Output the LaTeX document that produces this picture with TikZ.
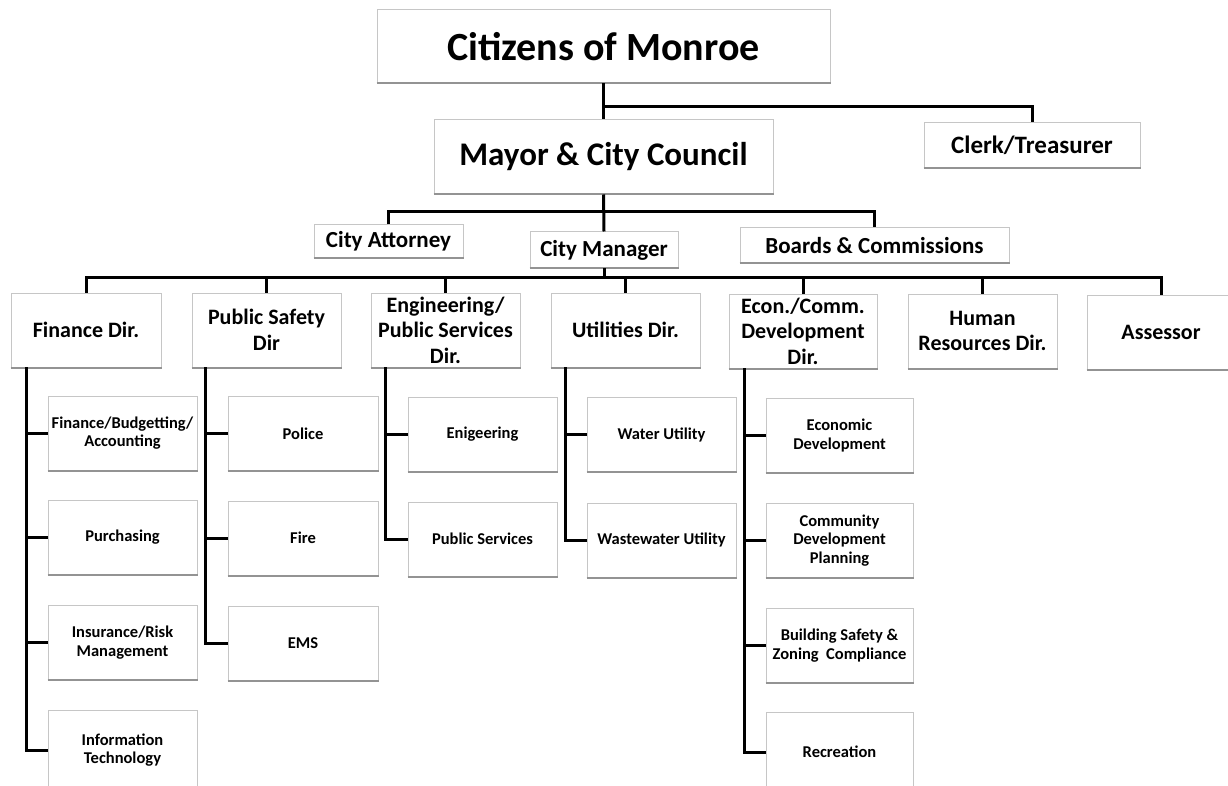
\documentclass[tikz,border=0pt]{standalone}
\usepackage{fontspec}
\setmainfont{Carlito}
\usetikzlibrary{calc}
\newcommand\fszA{\bfseries\fontsize{40}{48}\selectfont}
\newcommand\fszB{\bfseries\fontsize{33}{40}\selectfont}
\newcommand\fszC{\bfseries\fontsize{25}{30}\selectfont}
\newcommand\fszD{\bfseries\fontsize{23}{27}\selectfont}
\newcommand\fszE{\bfseries\fontsize{22}{25.5}\selectfont}
\newcommand\fszF{\bfseries\fontsize{16.5}{18.5}\selectfont}
\begin{document}
\begin{tikzpicture}[x=1pt,y=-1pt,
  box/.style={draw=gray!45, line width=1pt, fill=white, inner sep=0pt, align=center},
  dirbox/.style={box, font=\fszE, minimum width=149, minimum height=74},
  subbox/.style={box, font=\fszF, minimum width=149, minimum height=74},
  conn/.style={draw=black, line width=3pt},
  shadowline/.style={draw=gray!85, line width=2pt}]
\useasboundingbox (0,0) rectangle (1228,786);
\fill[white] (0,0) rectangle (1228,786);

% top levels
\node[box, font=\fszA, minimum width=453, minimum height=73] (cit) at (603.5,46.5) {Citizens of Monroe};
\node[box, font=\fszB, minimum width=339, minimum height=74] (may) at (603.5,157) {Mayor \& City Council};
\node[box, font=\fszC, minimum width=216, minimum height=45] (clk) at (1032,145.5) {Clerk/Treasurer};
\node[box, font=\fszD, minimum width=149, minimum height=33] (att) at (388.5,241.5) {City Attorney};
\node[box, font=\fszD, minimum width=148, minimum height=36] (mgr) at (604,250) {City Manager};
\node[box, font=\fszD, minimum width=269, minimum height=35] (brd) at (874.5,245.5) {Boards \& Commissions};

% directors
\node[dirbox, minimum width=150] (fin) at (86,330) {Finance Dir.};
\node[dirbox] (psd) at (266.5,330) {Public Safety\\Dir};
\node[dirbox] (eng) at (445.5,330) {Engineering/\\Public Services\\Dir.};
\node[dirbox] (utl) at (625.5,330) {Utilities Dir.};
\node[dirbox, minimum width=148] (eco) at (803,331) {Econ./Comm.\\Development\\Dir.};
\node[dirbox] (hrd) at (982.5,331) {Human\\Resources Dir.};
\node[dirbox, minimum width=148] (ass) at (1161,332) {Assessor};

% finance subs
\node[subbox] (fs1) at (122.5,433) {Finance/Budgetting/\\Accounting};
\node[subbox] (fs2) at (122.5,537.5) {Purchasing};
\node[subbox] (fs3) at (122.5,642.5) {Insurance/Risk\\Management};
\node[subbox, minimum height=80] (fs4) at (122.5,750) {Information\\Technology};
% public safety subs
\node[subbox, minimum width=150] (ps1) at (303,433.5) {Police};
\node[subbox, minimum width=150] (ps2) at (303,538) {Fire};
\node[subbox, minimum width=150] (ps3) at (303,643) {EMS};
% engineering subs
\node[subbox] (es1) at (482.5,434) {Enigeering};
\node[subbox] (es2) at (482.5,539) {Public Services};
% utilities subs
\node[subbox] (us1) at (661.5,434.5) {Water Utility};
\node[subbox] (us2) at (661.5,540) {Wastewater Utility};
% econ subs
\node[subbox, minimum width=147] (cs1) at (839.5,435.5) {Economic\\Development};
\node[subbox, minimum width=147] (cs2) at (839.5,540.5) {Community\\Development\\Planning};
\node[subbox, minimum width=147] (cs3) at (839.5,645.5) {Building Safety \&\\Zoning~~Compliance};
\node[subbox, minimum width=147, minimum height=80] (cs4) at (839.5,752) {Recreation};

% darker bottom edges
\foreach \n in {cit,may,clk,att,mgr,brd,fin,psd,eng,utl,eco,hrd,ass,fs1,fs2,fs3,fs4,ps1,ps2,ps3,es1,es2,us1,us2,cs1,cs2,cs3,cs4}
  \draw[shadowline] (\n.south west) -- (\n.south east);

% connectors, top
\coordinate (j1) at (603.5,107);
\draw[conn] (cit.south) -- (may.north);
\draw[conn] (j1) -| (clk.north);
\coordinate (j2) at (603.5,212);
\draw[conn] (may.south) -- (mgr.north);
\draw[conn] (att.north) |- (j2) -| (brd.north);
\coordinate (bus) at (604,277);
\draw[conn] (mgr.south) -- (bus);
\draw[conn] (fin.north) |- (bus) -| (ass.north);
\foreach \n in {psd,eng,utl,eco,hrd}
  \draw[conn] (\n.north) -- (\n.north |- bus);

% sub trunks
\coordinate (ft) at (26,367);
\draw[conn] (ft) |- (fs4.west);
\foreach \n in {fs1,fs2,fs3} \draw[conn] (ft |- \n.west) -- (\n.west);
\coordinate (pt) at (205,367);
\draw[conn] (pt) |- (ps3.west);
\foreach \n in {ps1,ps2} \draw[conn] (pt |- \n.west) -- (\n.west);
\coordinate (et) at (385,367);
\draw[conn] (et) |- (es2.west);
\draw[conn] (et |- es1.west) -- (es1.west);
\coordinate (ut) at (565,367);
\draw[conn] (ut) |- (us2.west);
\draw[conn] (ut |- us1.west) -- (us1.west);
\coordinate (ct) at (744,368);
\draw[conn] (ct) |- (cs4.west);
\foreach \n in {cs1,cs2,cs3} \draw[conn] (ct |- \n.west) -- (\n.west);
\end{tikzpicture}
\end{document}
